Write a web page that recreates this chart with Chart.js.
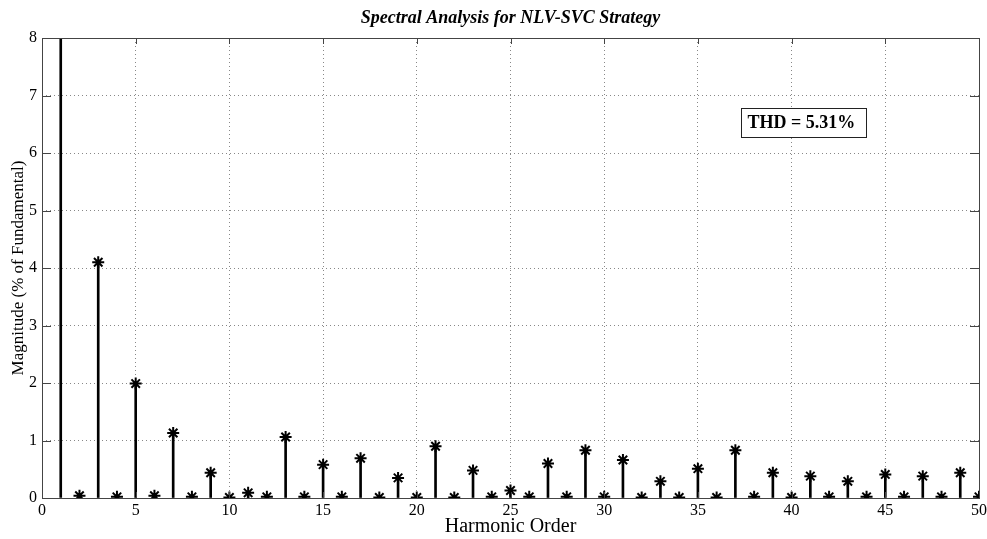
<!DOCTYPE html>
<html>
<head>
<meta charset="utf-8">
<script src="https://cdn.jsdelivr.net/npm/chart.js@4.4.1/dist/chart.umd.min.js"></script>
<style>
  html, body { margin: 0; padding: 0; background: #fff; }
  #wrap { width: 987px; height: 539px; position: relative; }
</style>
</head>
<body>
<div id="wrap"><canvas id="chart"></canvas></div>
<script>
// harmonic spectrum, % of fundamental (fundamental = 100, off the top)
var harmonics = [1, 2, 3, 4, 5, 6, 7, 8, 9, 10,
  11, 12, 13, 14, 15, 16, 17, 18, 19, 20,
  21, 22, 23, 24, 25, 26, 27, 28, 29, 30,
  31, 32, 33, 34, 35, 36, 37, 38, 39, 40,
  41, 42, 43, 44, 45, 46, 47, 48, 49, 50]
var magnitude = [100, 0.04, 4.10, 0.02, 1.99, 0.04, 1.13, 0.02, 0.44, 0.01,
  0.09, 0.02, 1.06, 0.02, 0.58, 0.02, 0.69, 0.01, 0.35, 0.01,
  0.90, 0.01, 0.48, 0.02, 0.13, 0.02, 0.60, 0.02, 0.83, 0.02,
  0.66, 0.01, 0.29, 0.01, 0.51, 0.01, 0.83, 0.02, 0.44, 0.01,
  0.38, 0.02, 0.29, 0.02, 0.41, 0.02, 0.38, 0.02, 0.44, 0.02]
var xTicks = [0, 5, 10, 15, 20, 25, 30, 35, 40, 45, 50]
var yTicks = [0, 1, 2, 3, 4, 5, 6, 7, 8]
var chartTitle = 'Spectral Analysis for NLV-SVC Strategy'
var thdText = 'THD = 5.31%'

var points = harmonics.map(function (h, i) { return { x: h, y: magnitude[i] } })

// frame, inward ticks, title and THD box (MATLAB look)
var matlabBits = {
  id: 'matlabBits',
  afterDraw: function (chart) {
    var ctx = chart.ctx
    var a = chart.chartArea
    var xs = chart.scales.x, ys = chart.scales.y
    ctx.save()
    ctx.strokeStyle = '#444'
    ctx.lineWidth = 1
    ctx.strokeRect(a.left + 0.5, a.top + 0.5, a.right - a.left, a.bottom - a.top)
    ctx.beginPath()
    xTicks.forEach(function (v) {
      var px = Math.round(xs.getPixelForValue(v)) + 0.5
      ctx.moveTo(px, a.bottom); ctx.lineTo(px, a.bottom - 6)
      ctx.moveTo(px, a.top); ctx.lineTo(px, a.top + 6)
    })
    yTicks.forEach(function (v) {
      var py = Math.round(ys.getPixelForValue(v)) + 0.5
      ctx.moveTo(a.left, py); ctx.lineTo(a.left + 9, py)
      ctx.moveTo(a.right, py); ctx.lineTo(a.right - 9, py)
    })
    ctx.stroke()

    // title
    ctx.fillStyle = '#000'
    ctx.font = 'italic bold 18px "Liberation Serif"'
    ctx.textAlign = 'center'
    ctx.textBaseline = 'middle'
    ctx.fillText(chartTitle, (a.left + a.right) / 2, 18)

    // THD box
    var bx = Math.round(xs.getPixelForValue(37.3)) + 0.5
    var by = Math.round(ys.getPixelForValue(6.78)) + 0.5
    ctx.fillStyle = '#fff'
    ctx.fillRect(bx, by, 125, 29)
    ctx.strokeStyle = '#222'
    ctx.strokeRect(bx, by, 125, 29)
    ctx.fillStyle = '#000'
    ctx.font = 'bold 18px "Liberation Serif"'
    ctx.textAlign = 'left'
    ctx.fillText(thdText, bx + 6, by + 15)
    ctx.restore()
  }
}

new Chart(document.getElementById('chart'), {
  type: 'bar',
  data: {
    datasets: [{
      type: 'bar',
      data: points,
      backgroundColor: '#000',
      barThickness: 2,
      order: 2
    }, {
      type: 'scatter',
      data: points,
      pointStyle: 'star',
      pointRadius: 6,
      borderColor: '#000',
      backgroundColor: '#000',
      borderWidth: 2,
      order: 1
    }]
  },
  options: {
    responsive: true,
    maintainAspectRatio: false,
    animation: false,
    layout: { padding: { left: 0, right: 8, top: 38, bottom: 0 } },
    plugins: { legend: { display: false }, tooltip: { enabled: false } },
    scales: {
      x: {
        type: 'linear',
        min: 0,
        max: 50,
        offset: false,
        afterBuildTicks: function (s) { s.ticks = xTicks.map(function (v) { return { value: v } }) },
        afterFit: function (s) { s.height = 41; s.paddingRight = 0; s.paddingLeft = 0 },
        grid: { color: '#888', lineWidth: 1, drawTicks: false, offset: false },
        border: { display: false, dash: [1, 3] },
        ticks: { color: '#000', padding: 3, maxRotation: 0, font: { family: 'Liberation Serif', size: 16 } },
        title: { display: true, text: 'Harmonic Order', color: '#000', padding: { top: 0, bottom: 0 },
          font: { family: 'Liberation Serif', size: 20 } }
      },
      y: {
        min: 0,
        max: 8,
        afterBuildTicks: function (s) { s.ticks = yTicks.map(function (v) { return { value: v } }) },
        afterFit: function (s) { s.width = 42 },
        grid: { color: '#888', lineWidth: 1, drawTicks: false },
        border: { display: false, dash: [1, 3] },
        ticks: { color: '#000', padding: 5, font: { family: 'Liberation Serif', size: 16 } },
        title: { display: true, text: 'Magnitude (% of Fundamental)', color: '#000', padding: { top: 8, bottom: 0 },
          font: { family: 'Liberation Serif', size: 17 } }
      }
    }
  },
  plugins: [matlabBits]
})
</script>
</body>
</html>
